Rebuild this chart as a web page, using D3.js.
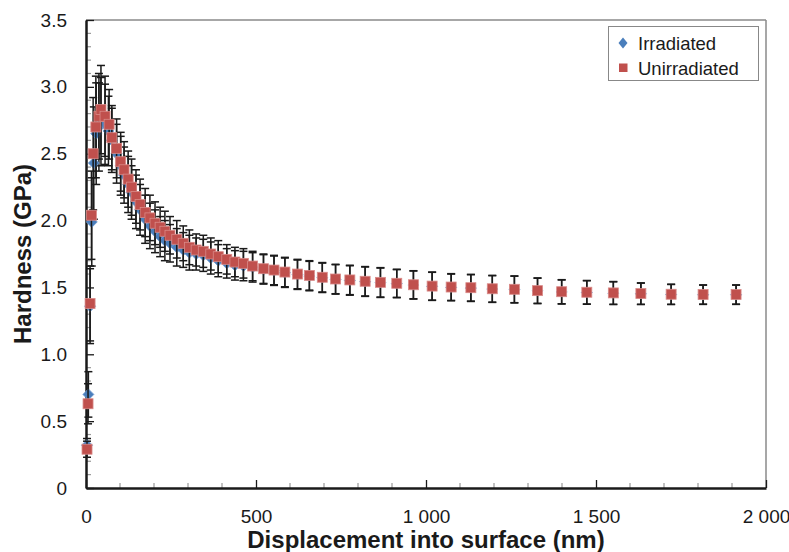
<!DOCTYPE html>
<html><head><meta charset="utf-8">
<script src="https://cdn.jsdelivr.net/npm/d3@7/dist/d3.min.js"></script>
<style>body{margin:0;background:#fff}svg{display:block}text{font-family:"Liberation Sans",Arial,sans-serif}</style>
</head><body><svg id="c" width="789" height="552"></svg>
<script>
// Displacement (nm), hardness (GPa), standard deviation (GPa)
const unirrX = [3,6,12,16,21,29,38,44,56,68,76,90,102,112,124,134,147,159,174,188,203,218,232,247,267,286,304,324,345,367,389,414,438,463,490,522,553,585,622,657,695,734,776,821,866,914,963,1018,1074,1132,1195,1260,1328,1399,1473,1551,1632,1721,1815,1912];
const unirrH = [0.29,0.63,1.38,2.04,2.50,2.70,2.78,2.83,2.78,2.72,2.62,2.54,2.44,2.38,2.31,2.25,2.18,2.12,2.06,2.02,1.98,1.95,1.92,1.89,1.86,1.83,1.80,1.78,1.77,1.75,1.73,1.71,1.69,1.68,1.66,1.64,1.63,1.615,1.60,1.59,1.576,1.563,1.556,1.546,1.538,1.531,1.52,1.51,1.503,1.498,1.49,1.486,1.476,1.468,1.464,1.459,1.454,1.449,1.447,1.447];
const unirrE = [0.06,0.15,0.28,0.33,0.42,0.38,0.32,0.33,0.30,0.26,0.24,0.22,0.22,0.21,0.21,0.21,0.20,0.19,0.18,0.17,0.16,0.15,0.15,0.14,0.14,0.13,0.13,0.12,0.12,0.12,0.12,0.11,0.11,0.11,0.11,0.11,0.11,0.11,0.11,0.11,0.11,0.11,0.11,0.11,0.11,0.105,0.105,0.105,0.10,0.10,0.10,0.10,0.095,0.09,0.088,0.085,0.08,0.075,0.072,0.072];

const irrX = [3,7,12,17,23,30,38,44,56,66,76,90,102,112,124,134,147,159,174,188,203,218,232,247,267,286,304,324,345,367,389,414,438,463,490,522,553,585,622,657,695,734,776,821,866,914,963,1018,1074,1132,1195,1260,1328,1399,1473,1551,1632,1721,1815,1912];
const irrH = [0.32,0.70,1.36,1.99,2.43,2.65,2.70,2.74,2.72,2.67,2.60,2.50,2.41,2.34,2.27,2.21,2.14,2.08,2.01,1.96,1.92,1.88,1.85,1.83,1.80,1.78,1.76,1.75,1.74,1.72,1.70,1.68,1.665,1.66,1.65,1.635,1.625,1.61,1.595,1.585,1.572,1.56,1.552,1.543,1.535,1.528,1.518,1.508,1.50,1.495,1.488,1.484,1.474,1.466,1.462,1.457,1.452,1.447,1.445,1.445];
const irrE = [0.05,0.17,0.28,0.33,0.42,0.38,0.33,0.33,0.30,0.26,0.24,0.22,0.22,0.21,0.21,0.20,0.20,0.19,0.18,0.17,0.16,0.15,0.15,0.14,0.14,0.13,0.13,0.12,0.12,0.12,0.12,0.11,0.11,0.11,0.11,0.11,0.11,0.11,0.11,0.11,0.11,0.11,0.11,0.11,0.11,0.105,0.105,0.105,0.10,0.10,0.10,0.10,0.095,0.09,0.088,0.085,0.08,0.075,0.072,0.072];

const xTicks = [0,500,1000,1500,2000];
const xTickLabels = ["0","500","1 000","1 500","2 000"];
const yTicks = [0,0.5,1,1.5,2,2.5,3,3.5];
const yTickLabels = ["0","0.5","1.0","1.5","2.0","2.5","3.0","3.5"];
const seriesNames = ["Irradiated","Unirradiated"];
const xTitle = "Displacement into surface (nm)";
const yTitle = "Hardness (GPa)";

const svg = d3.select("#c");
const L=86,R=766,T=20,B=488;
const x = d3.scaleLinear().domain([0,2000]).range([L,R]);
const y = d3.scaleLinear().domain([0,3.5]).range([B,T]);

// frame
svg.append("line").attr("x1",L).attr("x2",R).attr("y1",T).attr("y2",T).attr("stroke","#8a8a8a").attr("stroke-width",1.5);
svg.append("line").attr("x1",R).attr("x2",R).attr("y1",T).attr("y2",B).attr("stroke","#8a8a8a").attr("stroke-width",1.5);

// minor ticks
const xMinor = d3.range(0,2001,100).filter(v=>v%500!==0);
const yMinor = d3.range(0,36,1).map(v=>v/10).filter(v=>Math.round(v*10)%5!==0);
svg.append("g").selectAll("line").data(xMinor).join("line")
  .attr("x1",d=>x(d)).attr("x2",d=>x(d)).attr("y1",B).attr("y2",B-5).attr("stroke","#999").attr("stroke-width",1.2);
svg.append("g").selectAll("line").data(yMinor).join("line")
  .attr("x1",L).attr("x2",L+5).attr("y1",d=>y(d)).attr("y2",d=>y(d)).attr("stroke","#999").attr("stroke-width",1.2);

// axes
const xAxis = d3.axisBottom(x).tickValues(xTicks).tickFormat((d,i)=>xTickLabels[i]).tickSizeInner(-8).tickSizeOuter(0).tickPadding(22);
const gx = svg.append("g").attr("transform",`translate(0,${B})`).call(xAxis);
gx.select(".domain").attr("stroke","#1a1a1a").attr("stroke-width",2.5);
gx.selectAll(".tick line").attr("stroke","#1a1a1a").attr("stroke-width",1.3);
gx.selectAll(".tick text").attr("font-size",19).attr("fill","#1a1a1a").attr("font-family","Liberation Sans, Arial, sans-serif");

const yAxis = d3.axisLeft(y).tickValues(yTicks).tickFormat((d,i)=>yTickLabels[i]).tickSizeInner(-8).tickSizeOuter(0).tickPadding(19);
const gy = svg.append("g").attr("transform",`translate(${L},0)`).call(yAxis);
gy.select(".domain").attr("stroke","#1a1a1a").attr("stroke-width",2.5);
gy.selectAll(".tick line").attr("stroke","#1a1a1a").attr("stroke-width",1.3);
gy.selectAll(".tick text").attr("font-size",19).attr("fill","#1a1a1a").attr("font-family","Liberation Sans, Arial, sans-serif");

// titles
svg.append("text").attr("x",(L+R)/2).attr("y",548).attr("text-anchor","middle").attr("font-size",24).attr("font-weight","bold").attr("fill","#1a1a1a").text(xTitle);
svg.append("text").attr("transform",`translate(31,${(T+B)/2}) rotate(-90)`).attr("text-anchor","middle").attr("font-size",24).attr("font-weight","bold").attr("fill","#1a1a1a").text(yTitle);

function drawSeries(X,H,E,kind){
  const data = X.map((v,i)=>({x:v,h:H[i],e:E[i]}));
  const g = svg.append("g");
  const eb = g.append("g").attr("stroke","#1a1a1a").attr("stroke-width",1.5);
  data.forEach(d=>{
    eb.append("line").attr("x1",x(d.x)).attr("x2",x(d.x)).attr("y1",y(d.h-d.e)).attr("y2",y(d.h+d.e));
    eb.append("line").attr("x1",x(d.x)-4).attr("x2",x(d.x)+4).attr("y1",y(d.h-d.e)).attr("y2",y(d.h-d.e));
    eb.append("line").attr("x1",x(d.x)-4).attr("x2",x(d.x)+4).attr("y1",y(d.h+d.e)).attr("y2",y(d.h+d.e));
  });
  if(kind==="diamond"){
    g.append("g").selectAll("path").data(data).join("path")
      .attr("d",d=>{const cx=x(d.x),cy=y(d.h),r=5.5;return `M${cx},${cy-r}L${cx+r},${cy}L${cx},${cy+r}L${cx-r},${cy}Z`;})
      .attr("fill","#4a7ebb").attr("stroke","#6f9bd1").attr("stroke-width",0.8);
  } else {
    g.append("g").selectAll("rect").data(data).join("rect")
      .attr("x",d=>x(d.x)-5).attr("y",d=>y(d.h)-5).attr("width",10).attr("height",10)
      .attr("fill","#c0504d").attr("stroke","#d98a88").attr("stroke-width",0.8);
  }
}
drawSeries(irrX,irrH,irrE,"diamond");
drawSeries(unirrX,unirrH,unirrE,"square");

// legend
const lg = svg.append("g");
lg.append("rect").attr("x",608.5).attr("y",26.5).attr("width",150).attr("height",54).attr("fill","#fff").attr("stroke","#888").attr("stroke-width",1);
lg.append("path").attr("d","M623,37.5L627.5,43L623,48.5L618.5,43Z").attr("fill","#4a7ebb");
lg.append("rect").attr("x",619).attr("y",63.5).attr("width",8.5).attr("height",8.5).attr("fill","#c0504d");
lg.append("text").attr("x",638).attr("y",49.5).attr("font-size",18.5).attr("fill","#1a1a1a").text(seriesNames[0]);
lg.append("text").attr("x",638).attr("y",74.5).attr("font-size",18.5).attr("fill","#1a1a1a").text(seriesNames[1]);
</script></body></html>
